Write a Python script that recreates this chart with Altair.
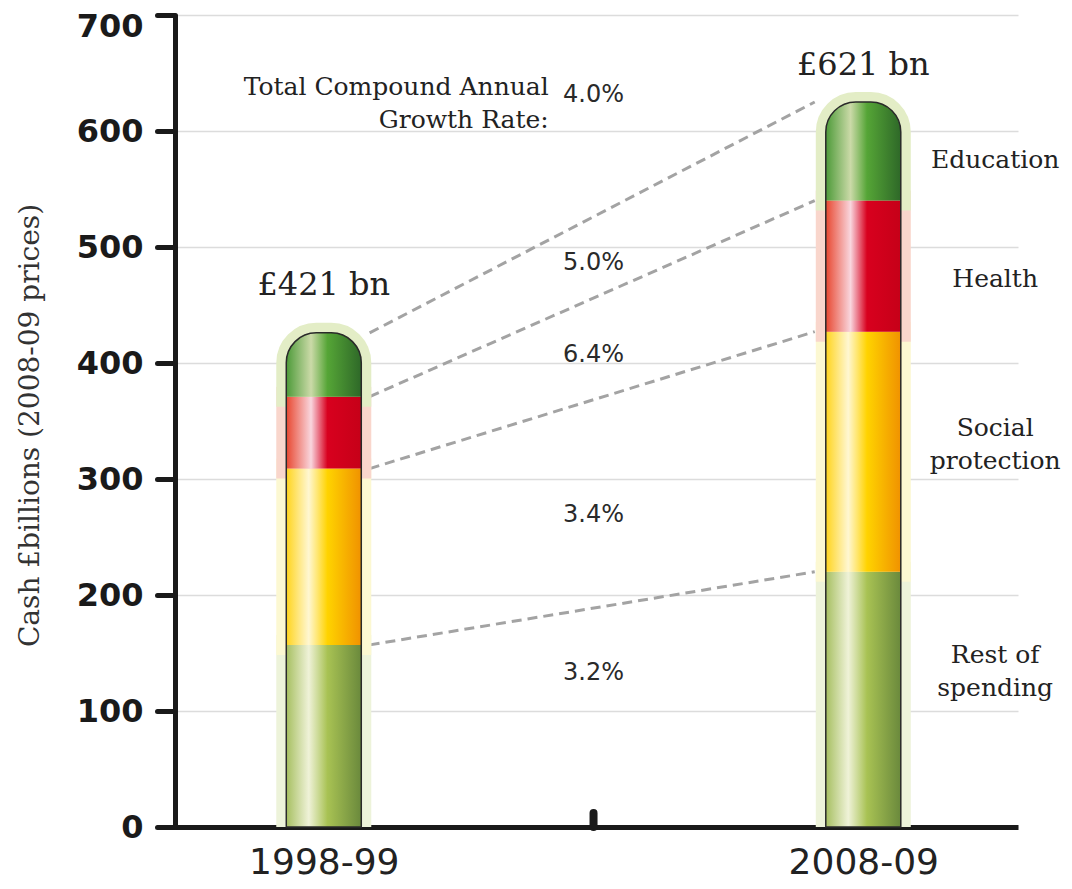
import altair as alt
import pandas as pd

# ---------------- data ----------------
years = ["1998-99", "2008-09"]
year_pos = [0, 1]
categories = ["Rest of spending", "Social protection", "Health", "Education"]
rest = [157, 220]
social = [152, 207]
health = [62, 113]
education = [55, 85]
totals = ["£421 bn", "£621 bn"]
total_label_y = [467, 657]
growth_rates = ["4.0%", "5.0%", "6.4%", "3.4%", "3.2%"]
growth_label_y = [631, 486, 407, 269, 133]
category_labels = ["Rest of\nspending", "Social\nprotection", "Health", "Education"]
category_label_y = [148, 344, 472, 575]
growth_title = "Total Compound Annual\nGrowth Rate:"
growth_title_y = [638]
y_ticks = [0, 100, 200, 300, 400, 500, 600, 700]

# ---------------- derived tables ----------------
values = {"Rest of spending": rest, "Social protection": social,
          "Health": health, "Education": education}
rows = []
for j, yr in enumerate(years):
    base = 0
    for cat in categories:
        v = values[cat][j]
        rows.append({"x": year_pos[j], "y": base, "y2": base + v, "cat": cat, "year": yr})
        base += v
seg = pd.DataFrame(rows)
tot = seg.groupby("x", as_index=False)["y2"].max()
tot["y"] = 0

# dashed connectors between segment tops
line_rows = []
for cat in categories:
    for j in range(2):
        top = seg[(seg.cat == cat) & (seg.x == year_pos[j])]["y2"].iloc[0]
        line_rows.append({"x": [0.085, 0.91][j], "y": top, "cat": cat})
lines = pd.DataFrame(line_rows)

xscale = alt.Scale(domain=[-0.2665, 1.2775], nice=False, zero=False)
yscale = alt.Scale(domain=[0, 700], nice=False)

label_expr = " : ".join(
    [f"datum.value == {p} ? '{y}'" for p, y in zip(year_pos, years)]) + " : ''"

x_axis = alt.Axis(
    values=year_pos, labelExpr=label_expr, title=None, grid=False, ticks=False,
    domainWidth=5, domainColor="#1a1a1a", labelFont="DejaVu Sans",
    labelFontSize=36, labelColor="#222222", labelPadding=18)
y_axis = alt.Axis(
    values=y_ticks, title="Cash £billions (2008-09 prices)",
    titleFont="DejaVu Serif", titleFontSize=28, titleFontWeight="normal",
    titleColor="#333333", titleX=-145, titleY=410, titleAlign="center",
    titleBaseline="middle", titleAngle=270,
    labelFont="DejaVu Sans", labelFontSize=32, labelFontWeight="bold",
    labelColor="#1a1a1a", labelPadding=14, tickSize=18, tickWidth=5,
    labelOffset={"condition": {"test": f"datum.value == {max(y_ticks)}", "value": 11}, "value": 0},
    tickColor="#1a1a1a", tickCap="round", domainWidth=5, domainColor="#1a1a1a",
    grid=True, gridColor="#dcdcdc", gridWidth=1.5)

X = lambda: alt.X("x:Q", scale=xscale, axis=x_axis)
Y = lambda: alt.Y("y:Q", scale=yscale, axis=y_axis)

# connectors
conn = alt.Chart(lines).mark_line(
    strokeDash=[10, 6], strokeWidth=3, color="#a3a3a3"
).encode(x=X(), y=Y(), detail="cat:N")

grad_stops = {
    "Rest of spending": [("#a6bf60", 0), ("#eff2d8", 0.3), ("#a8c253", 0.55), ("#6a893c", 1)],
    "Social protection": [("#ffd41c", 0), ("#fff7d2", 0.3), ("#ffd300", 0.55), ("#f09200", 1)],
    "Health": [("#e8472f", 0), ("#f9d6de", 0.33), ("#d8001e", 0.55), ("#c60018", 1)],
    "Education": [("#4c9a38", 0), ("#cbdaa8", 0.33), ("#55a536", 0.55), ("#2e6828", 1)],
}
halo_colors = {
    "Rest of spending": "#edf3da", "Social protection": "#fcf8d2",
    "Health": "#f9d6cc", "Education": "#e3edc6",
}

layers = [conn]
halo_layers, bar_layers = [], []
for cat in categories:
    d = seg[seg.cat == cat]
    rad = 30 if cat == "Education" else 0
    halo_layers.append(alt.Chart(d).mark_bar(
        size=75, color=halo_colors[cat], stroke=halo_colors[cat], strokeWidth=20,
        cornerRadiusTopLeft=rad, cornerRadiusTopRight=rad, clip=True
    ).encode(x=X(), y=Y(), y2=alt.Y2("y2:Q")))
    grad = alt.LinearGradient(
        gradient="linear", x1=0, x2=1, y1=0, y2=0,
        stops=[alt.GradientStop(color=c, offset=o) for c, o in grad_stops[cat]])
    bar_layers.append(alt.Chart(d).mark_bar(
        size=75, color=grad, cornerRadiusTopLeft=rad, cornerRadiusTopRight=rad
    ).encode(x=X(), y=Y(), y2=alt.Y2("y2:Q")))
layers += halo_layers + bar_layers

# outline of the whole tube
outline = alt.Chart(tot).mark_bar(
    size=75, fillOpacity=0, stroke="#2a2a2a", strokeWidth=1.5,
    cornerRadiusTopLeft=30, cornerRadiusTopRight=30
).encode(x=X(), y=Y(), y2=alt.Y2("y2:Q"))
layers.append(outline)

# middle divider tick on the x axis
divider = alt.Chart(pd.DataFrame({"x": [0.5], "y": [0], "y2": [12]})).mark_rule(
    strokeWidth=8, strokeCap="round", color="#1a1a1a"
).encode(x=X(), y=Y(), y2=alt.Y2("y2:Q"))
layers.append(divider)

# totals
tot_df = pd.DataFrame({"x": year_pos, "y": total_label_y, "t": totals})
layers.append(alt.Chart(tot_df).mark_text(
    font="DejaVu Serif", fontSize=32, color="#222222", baseline="middle"
).encode(x=X(), y=Y(), text="t:N"))

# growth rates
gr_df = pd.DataFrame({"x": [0.5] * len(growth_rates), "y": growth_label_y, "t": growth_rates})
layers.append(alt.Chart(gr_df).mark_text(
    font="DejaVu Sans", fontSize=24, color="#2a2a2a", baseline="middle"
).encode(x=X(), y=Y(), text="t:N"))

# growth rate title
gt_df = pd.DataFrame({"x": [0.417], "y": growth_title_y, "t": [growth_title]})
layers.append(alt.Chart(gt_df).mark_text(
    font="DejaVu Serif", fontSize=25, color="#222222", align="right",
    baseline="middle", lineBreak="\n", lineHeight=33
).encode(x=X(), y=Y(), text="t:N"))

# category labels on the right
cl_df = pd.DataFrame({"x": [1.2445] * 4, "y": category_label_y, "t": category_labels})
layers.append(alt.Chart(cl_df).mark_text(
    font="DejaVu Serif", fontSize=25, color="#222222", align="center",
    baseline="middle", lineBreak="\n", lineHeight=33
).encode(x=X(), y=Y(), text="t:N"))

chart = alt.layer(*layers).properties(
    width=843, height=812,
    background="white",
    autosize=alt.AutoSizeParams(type="none"),
    padding={"left": 175, "top": 15, "right": 54, "bottom": 62},
).configure_view(stroke=None)

chart.save("out.html", embed_options={"renderer": "svg", "actions": False})
